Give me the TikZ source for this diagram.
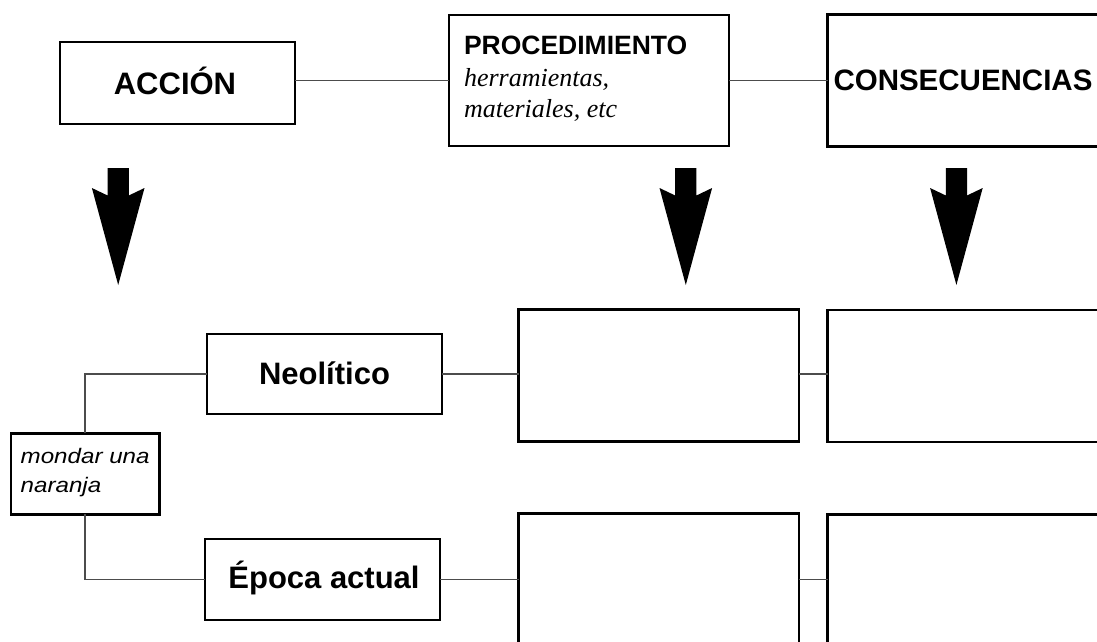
\documentclass[tikz,border=0pt]{standalone}
\usepackage{fontspec}
\setmainfont{Liberation Serif}
\newfontfamily\arialf{Liberation Sans}
\newfontfamily\arialwide[FakeStretch=1.15]{Liberation Sans}
\tikzset{
  box/.style={draw=black, line width=2.9pt, rectangle, inner sep=0pt, outer sep=0pt, fill=white},
  conn/.style={draw=black!70, line width=1.6pt},
  lbl/.style={inner sep=0pt, outer sep=0pt},
  bigfont/.style={font=\arialf\bfseries\fontsize{31}{37}\selectfont},
  bigarrow/.style={fill=black, draw=none}
}
\newcommand{\downarrowshape}[1]{%
  \fill[bigarrow] (#1-10.6,168) -- (#1+10.6,168) -- (#1+10.6,195.5) -- (#1+26.3,188)
    -- (#1,285) -- (#1-26.3,188) -- (#1-10.6,195.5) -- cycle;}
\begin{document}
\begin{tikzpicture}[x=1pt,y=-1pt]
\useasboundingbox (0,0) rectangle (1097,642);
\clip (0,0) rectangle (1097,642);
\fill[white] (0,0) rectangle (1097,642);

% top row boxes
\node[box, minimum width=235pt, minimum height=82pt] (acc) at (177.5,83) {};
\node[box, minimum width=280pt, minimum height=131pt] (proc) at (589,80.5) {};
\node[box, minimum width=272pt, minimum height=132pt] (cons) at (963.5,80.2) {};

% bottom boxes
\node[box, minimum width=235pt, minimum height=80pt] (neo) at (324.5,374) {};
\node[box, minimum width=235pt, minimum height=81pt] (epo) at (322.5,579.5) {};
\node[box, minimum width=148.5pt, minimum height=80.7pt] (mon) at (85.25,473.7) {};
\node[box, minimum width=280.5pt, minimum height=132pt] (p1) at (658.75,375.5) {};
\node[box, minimum width=272.5pt, minimum height=132pt] (c1) at (963.75,376) {};
\node[box, minimum width=280.5pt, minimum height=146.5pt] (p2) at (658.75,586.75) {};
\node[box, minimum width=272.5pt, minimum height=145.5pt] (c2) at (963.75,587.25) {};

% connectors
\draw[conn] (acc.east |- proc.west) -- (proc.west);
\draw[conn] (proc.east) -- (proc.east -| cons.west);
\draw[conn] (mon.north) |- (neo.west);
\draw[conn] (mon.south) |- (epo.west);
\draw[conn] (neo.east) -- (neo.east -| p1.west);
\draw[conn] (neo.east -| p1.east) -- (neo.east -| c1.west);
\draw[conn] (epo.east) -- (epo.east -| p2.west);
\draw[conn] (epo.east -| p2.east) -- (epo.east -| c2.west);

% texts
\node[lbl, bigfont, anchor=base] (tacc) at (175,94) {ACCIÓN};
\node[lbl, anchor=base west, font=\arialf\bfseries\fontsize{26.5}{31}\selectfont] (tproc) at (464,55) {PROCEDIMIENTO};
\node[lbl, anchor=base west, font=\itshape\fontsize{26}{31}\selectfont] (therr) at (464,86) {herramientas,};
\node[lbl, anchor=base west, font=\itshape\fontsize{26}{31}\selectfont] (tmat) at (464,117) {materiales, etc};
\node[lbl, anchor=base west, font=\arialf\bfseries\fontsize{29.5}{36}\selectfont] (tcons) at (833.5,90.7) {CONSECUENCIAS};
\node[lbl, bigfont, anchor=base] (tneo) at (324.5,384.3) {Neolítico};
\node[lbl, bigfont, anchor=base] (tepo) at (324,588.3) {Época actual};
\node[lbl, anchor=base west, font=\arialwide\itshape\fontsize{21}{25}\selectfont] (tmon1) at (20.7,463.3) {mondar una};
\node[lbl, anchor=base west, font=\arialwide\itshape\fontsize{21}{25}\selectfont] (tmon2) at (20.7,492.3) {naranja};

% big arrows
\downarrowshape{118.2}
\downarrowshape{685.8}
\downarrowshape{956.4}
\end{tikzpicture}
\end{document}
